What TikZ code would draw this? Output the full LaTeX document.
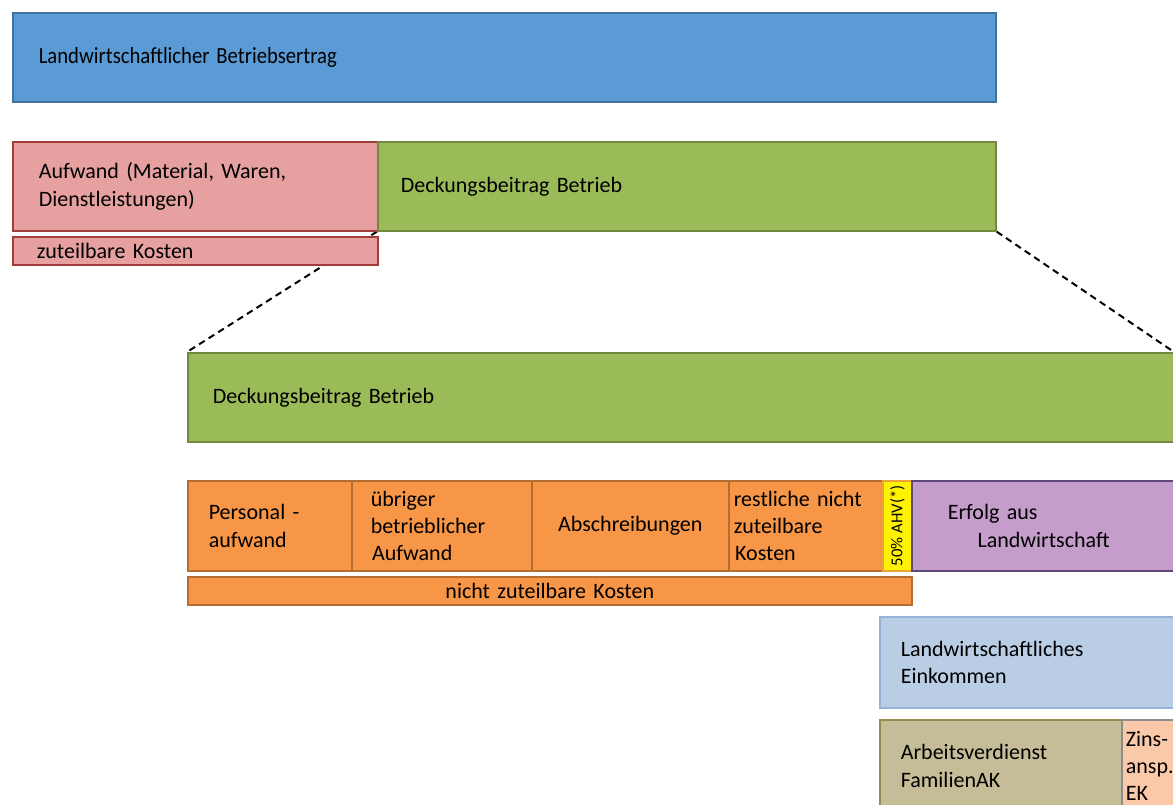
\documentclass[tikz,border=0pt]{standalone}
\usepackage{fontspec}
\setmainfont{Carlito}
\usepackage{xcolor}
\usepackage{tikz}
\usetikzlibrary{positioning, backgrounds}
\definecolor{ertragblue}{HTML}{5B9BD5}
\definecolor{ertragline}{HTML}{41719C}
\definecolor{aufwandred}{HTML}{E6A0A0}
\definecolor{aufwandline}{HTML}{A03C3A}
\definecolor{dbgreen}{HTML}{9BBB59}
\definecolor{dbline}{HTML}{71893F}
\definecolor{kostorange}{HTML}{F79646}
\definecolor{kostline}{HTML}{B66D31}
\definecolor{ahvline}{HTML}{EBA33A}
\definecolor{erfolgpurple}{HTML}{C49DCA}
\definecolor{erfolgline}{HTML}{5F497A}
\definecolor{einkblue}{HTML}{B9CDE5}
\definecolor{einkline}{HTML}{95B3D7}
\definecolor{arbeittan}{HTML}{C4BD97}
\definecolor{arbeitline}{HTML}{948A54}
\definecolor{zinspeach}{HTML}{FAC9AA}
\definecolor{zinsline}{HTML}{8C8C8C}

\begin{document}
\begin{tikzpicture}[
    x=0.75pt, y=-0.75pt,
    font=\fontsize{16.5}{20.5}\selectfont,
    box/.style={rectangle, draw, line width=1.2pt, anchor=north west,
                inner ysep=0pt, align=left},
    zoomline/.style={dashed, line width=1.5pt, dash pattern=on 5pt off 3.5pt}
]

\clip (0,0) rectangle (1173,804);

%% Betriebsertrag and its split
\node[box, fill=ertragblue, draw=ertragline, minimum width=737.25pt,
      minimum height=66.75pt, inner xsep=19.5pt, text width=698.25pt]
      (ertrag) at (12,12) {\scalebox{0.94}[1.05]{Landwirtschaftlicher Betriebsertrag}};
\node[box, fill=aufwandred, draw=aufwandline, minimum width=273.75pt,
      minimum height=66.75pt, inner xsep=19.5pt, text width=234.75pt]
      (aufwand) at (12,141) {Aufwand (Material, Waren,\\Dienstleistungen)};
\node[box, fill=dbgreen, draw=dbline, minimum width=463.5pt,
      minimum height=66.75pt, inner xsep=17.25pt, text width=429pt]
      (dbb) at (377,141) {Deckungsbeitrag Betrieb};
\node[box, fill=aufwandred, draw=aufwandline, minimum width=273.75pt,
      minimum height=21pt, inner xsep=18pt, text width=237.75pt]
      (zuteil) at (12,236) {zuteilbare Kosten};

%% Deckungsbeitrag, enlarged
\node[box, fill=dbgreen, draw=dbline, minimum width=760pt,
      minimum height=66.75pt, inner xsep=18.75pt, text width=722.5pt]
      (db2) at (187,352) {Deckungsbeitrag Betrieb};
\coordinate (zoomR) at (1174,352);

%% nicht zuteilbare Kosten
\node[box, fill=kostorange, draw=kostline, minimum width=123pt,
      minimum height=67.5pt, inner xsep=15.75pt, text width=91.5pt]
      (personal) at (187,480) {Personal -\\aufwand};
\node[box, fill=kostorange, draw=kostline, minimum width=135pt,
      minimum height=67.5pt, inner xsep=14.25pt, text width=106.5pt]
      (uebrig) at (351,480) {übriger\\betrieblicher\\\hspace*{1pt}Aufwand};
\node[box, fill=kostorange, draw=kostline, minimum width=147.75pt,
      minimum height=67.5pt, inner xsep=3pt, text width=141.75pt, align=center]
      (abschr) at (531,480) {Abschreibungen};
\node[box, fill=kostorange, draw=kostline, minimum width=115.5pt,
      minimum height=67.5pt, inner xsep=3.75pt, text width=108pt]
      (restl) at (728,480) {restliche nicht\\zuteilbare\\\hspace*{1pt}Kosten};
\node[box, fill=yellow, draw=ahvline, minimum width=21.75pt,
      minimum height=67.5pt, inner xsep=0pt]
      (ahv) at (882,480) {};
\node[rotate=90, font=\fontsize{12.5}{14}\selectfont, inner sep=0pt]
      (ahvtxt) at (ahv.center) {50\% AHV(*)};
\node[box, fill=erfolgpurple, draw=erfolgline, minimum width=240pt,
      minimum height=67.5pt, inner xsep=27pt, text width=186pt]
      (erfolg) at (911,480) {Erfolg aus\\\hspace*{1.35em}Landwirtschaft};
\node[box, fill=kostorange, draw=kostline, minimum width=543pt,
      minimum height=21pt, inner xsep=3pt, text width=537pt, align=center]
      (nichtzu) at (187,576) {nicht zuteilbare Kosten};

%% Einkommen
\node[box, fill=einkblue, draw=einkline, minimum width=240pt,
      minimum height=68.25pt, inner xsep=15.75pt, text width=208.5pt]
      (eink) at (879,616) {Landwirtschaftliches\\Einkommen};
\node[box, fill=arbeittan, draw=arbeitline, minimum width=181.5pt,
      minimum height=69pt, inner xsep=15.75pt, text width=150pt]
      (arbeit) at (879,719) {Arbeitsverdienst\\FamilienAK};
\node[box, fill=zinspeach, draw=zinsline, minimum width=60pt,
      minimum height=69pt, inner xsep=3pt, text width=54pt]
      (zins) at (1121,719) {Zins-\\ansp.\\EK};

%% zoom lines
\begin{scope}[on background layer]
\draw[zoomline] (dbb.south west) -- (db2.north west);
\draw[zoomline] (dbb.south east) -- (zoomR);
\end{scope}

\end{tikzpicture}
\end{document}
